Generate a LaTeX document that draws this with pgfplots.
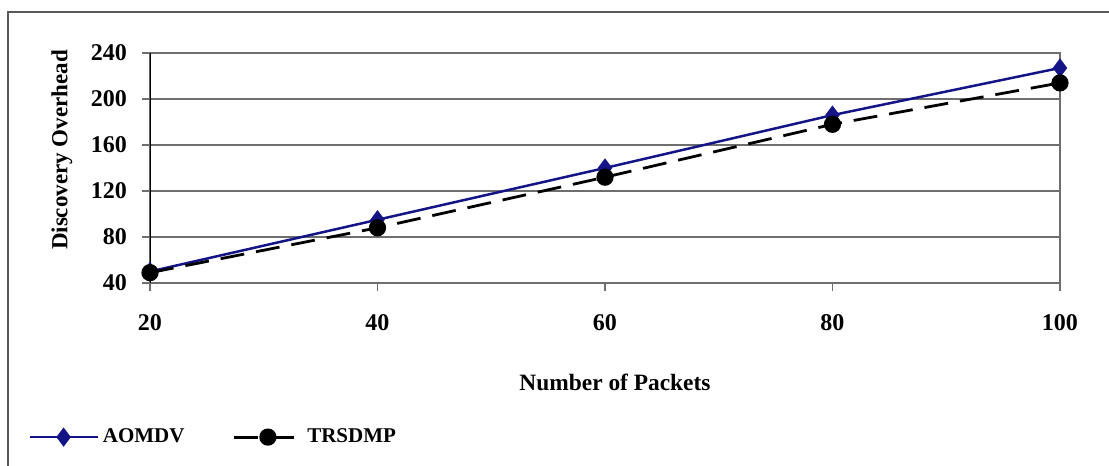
\documentclass[border=0pt]{standalone}
\usepackage{fontspec}
\setmainfont{Liberation Serif}
\usepackage{pgfplots}
\pgfplotsset{compat=1.18}
\definecolor{aomdv}{RGB}{20,20,135}
\definecolor{gridc}{RGB}{110,110,110}
\begin{document}
\begin{tikzpicture}[x=0.5pt,y=0.5pt]
\useasboundingbox (0,0) rectangle (1109,466);
\draw[gridc!80!black, line width=0.9pt] (8,0) -- (8,454) -- (1109,454);
\begin{axis}[
  at={(75pt,91.5pt)}, anchor=south west,
  scale only axis, width=455pt, height=115pt,
  xmin=20, xmax=100, ymin=40, ymax=240,
  xtick={20,40,60,80,100}, ytick={40,80,120,160,200,240},
  xtick pos=left, ytick pos=left,
  tick align=outside, major tick length=4pt,
  tick style={gridc, line width=0.7pt},
  axis line style={gridc, line width=0.7pt},
  ymajorgrids, grid style={gridc, line width=0.7pt},
  /pgf/number format/assume math mode=true,
  ticklabel style={font=\bfseries\fontsize{12}{14}\selectfont},
  xticklabel style={yshift=-8pt},
  yticklabel style={xshift=-4pt},
  legend style={at={(-0.1407,-0.67)}, anchor=west, draw=none, fill=none,
    font=\bfseries\fontsize{10.5}{12}\selectfont,
    legend columns=2,
    /tikz/every even column/.append style={column sep=22pt}},
  legend cell align=left,
  legend image code/.code={\draw[mark repeat=2,mark phase=2,#1] plot coordinates {(0pt,0pt) (17pt,0pt) (34pt,0pt)};},
]
\addplot[aomdv, line width=1.25pt, mark=diamond*, mark size=3.8pt, mark options={solid}] coordinates {
(20,50) (40,95) (60,140) (80,186) (100,227)};
\addlegendentry{AOMDV}
\addplot[black, line width=1.4pt, dash pattern=on 12pt off 6pt, mark=*, mark size=3.6pt, mark options={solid}] coordinates {
(20,49) (40,88) (60,132) (80,178) (100,214)};
\addlegendentry{TRSDMP}
\draw[black, line width=0.9pt] (rel axis cs:0,0) -- (rel axis cs:0,1);
\end{axis}
\node[rotate=90, font=\bfseries\fontsize{11.5}{13}\selectfont] at (62,316) {Discovery Overhead};
\node[font=\bfseries\fontsize{11.7}{13}\selectfont] at (615,84) {Number of Packets};
\end{tikzpicture}
\end{document}
